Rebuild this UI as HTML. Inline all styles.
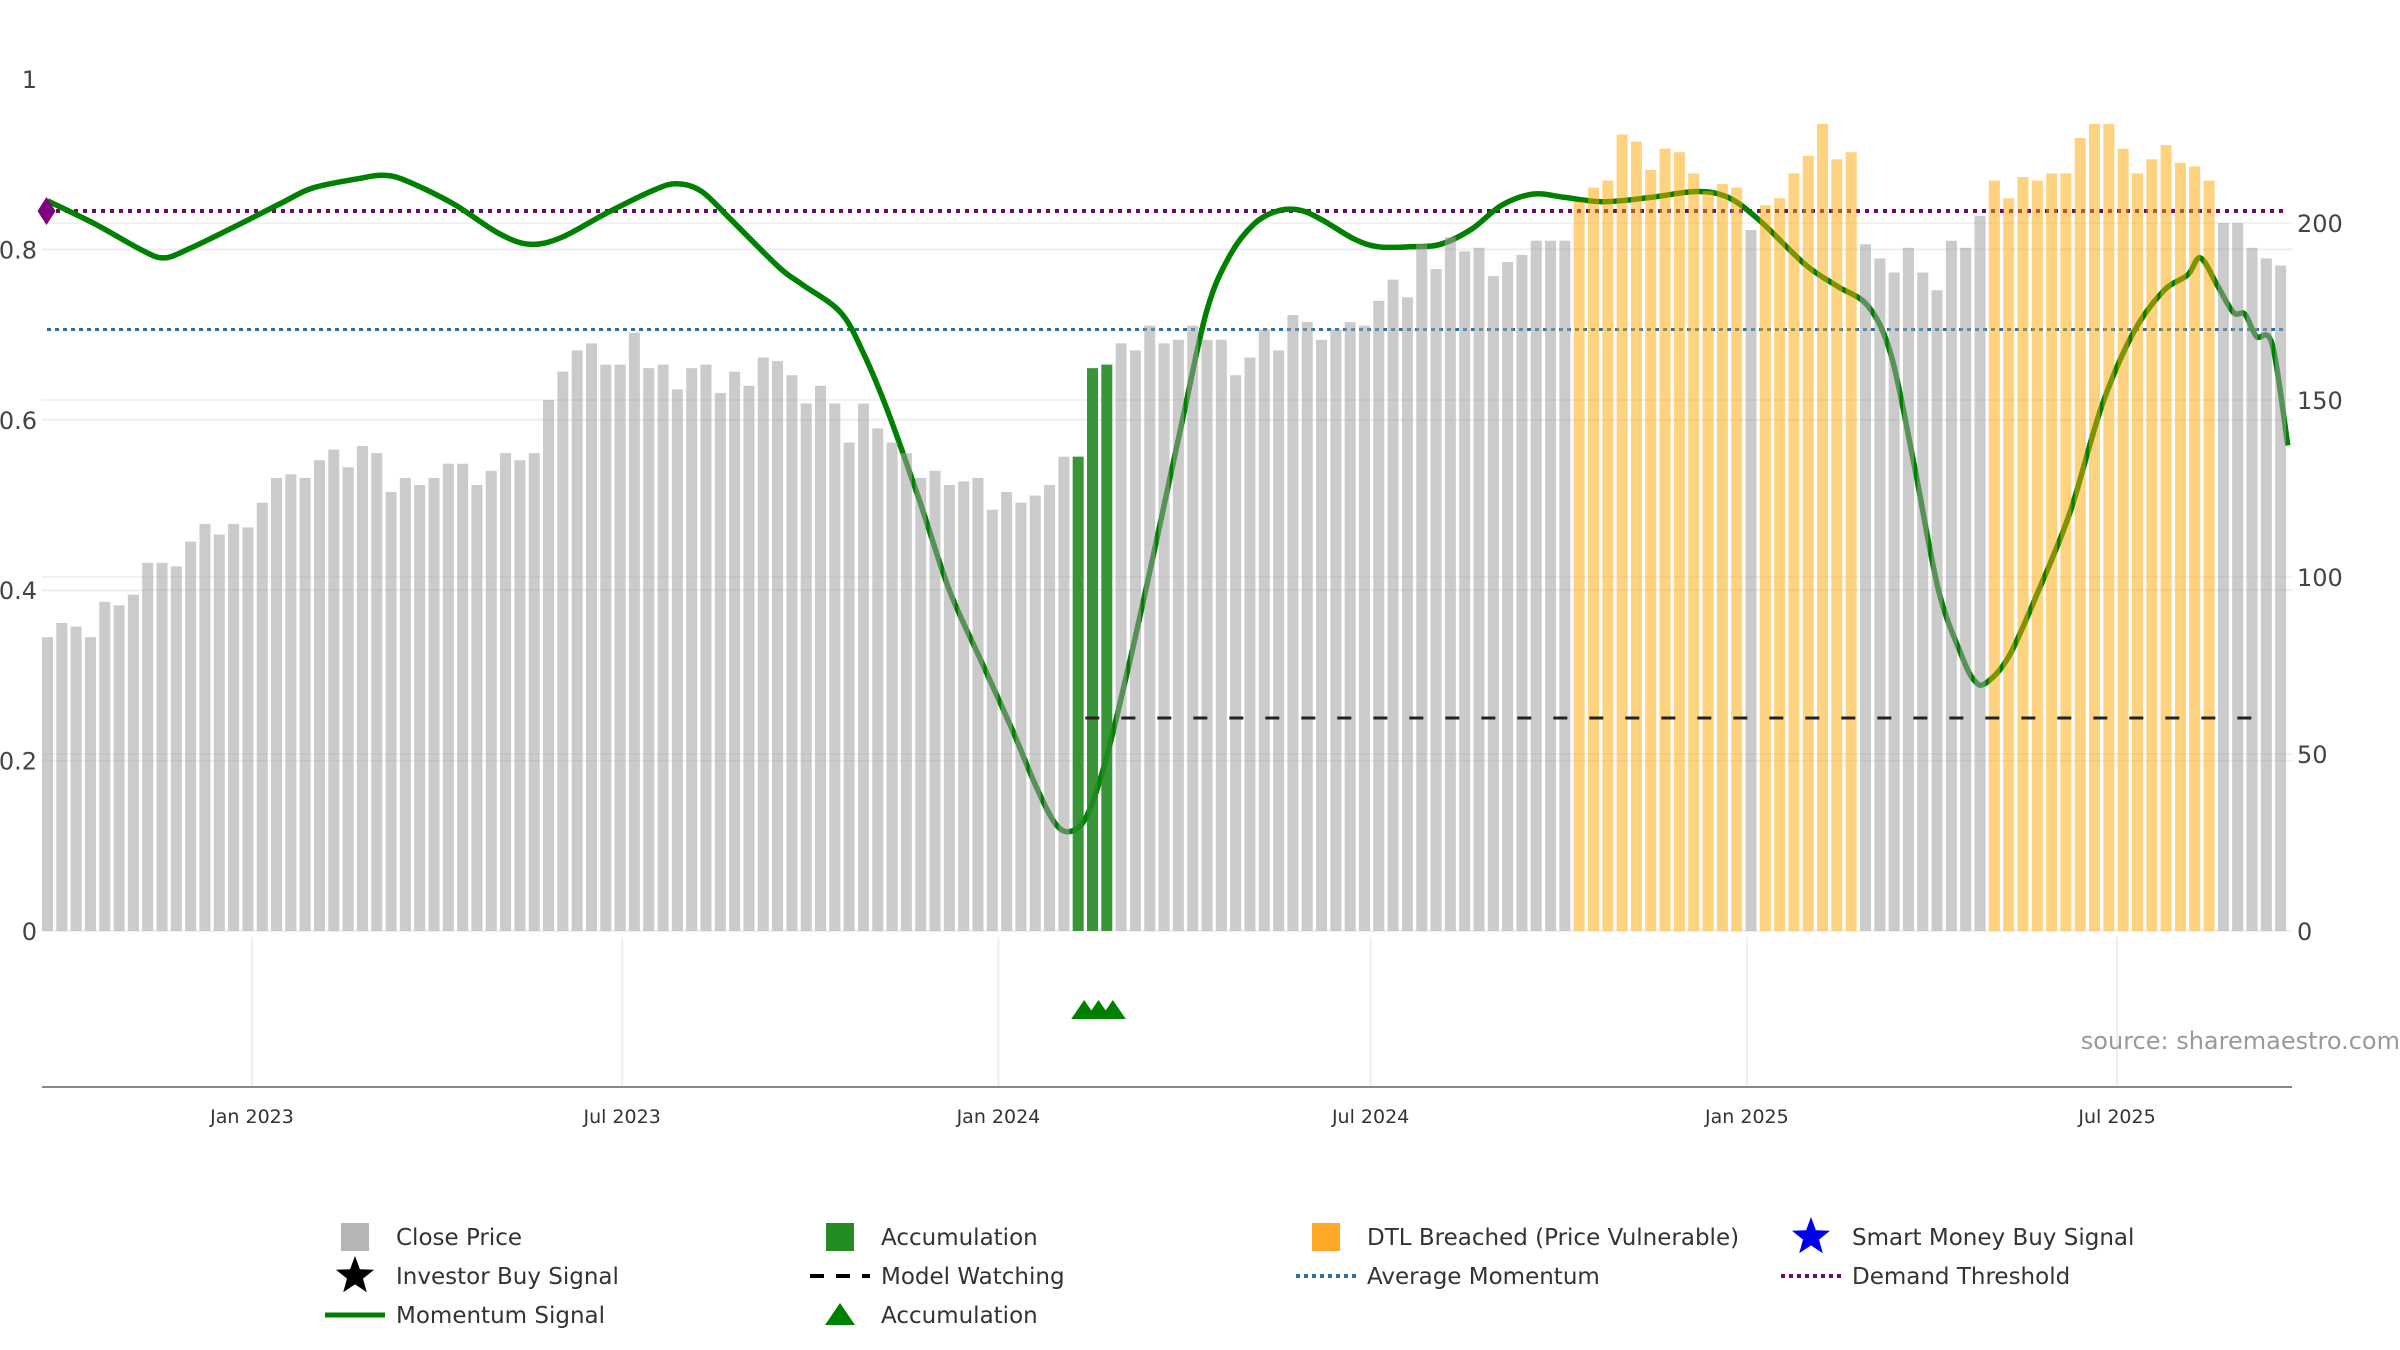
<!DOCTYPE html>
<html><head><meta charset="utf-8"><style>
html,body{margin:0;padding:0;background:#fff;}
svg{display:block;font-family:"DejaVu Sans","Liberation Sans",sans-serif;}
</style></head><body>
<svg id="chart" width="2400" height="1350" viewBox="0 0 2400 1350" xmlns="http://www.w3.org/2000/svg">
<g id="grid"></g>
<g id="lines"></g>
<g id="momentum"></g>
<g id="bars"></g>
<g id="markers"></g>
<g id="axes"></g>
<text x="2400" y="1049" text-anchor="end" font-size="24" fill="#999">source: sharemaestro.com</text>
<g id="legend"></g>
</svg>
<script>
const closePrice = [83,87,86,83,93,92,95,104,104,103,110,115,112,115,114,121,128,129,128,133,136,131,137,135,124,128,126,128,132,132,126,130,135,133,135,150,158,164,166,160,160,169,159,160,153,159,160,152,158,154,162,161,157,149,154,149,138,149,142,138,135,128,130,126,127,128,119,124,121,123,126,134,134,159,160,166,164,171,166,167,171,167,167,157,162,170,164,174,172,167,170,172,171,178,184,179,194,187,196,192,193,185,189,191,195,195,195,206,210,212,225,223,215,221,220,214,209,211,210,198,205,207,214,219,228,218,220,194,190,186,193,186,181,195,193,202,212,207,213,212,214,214,224,228,228,221,214,218,222,217,216,212,200,200,193,190,188];
const barState = [];
const accumIdx = [72,73,74];
const dtlRanges = [[107,118],[120,126],[136,151]];
const momentumWeek = [0,3.3,6.5,8.1,9.8,13,16.3,18.5,21.7,23.4,25,28.3,31.5,33.7,35.9,39.1,42.4,44,45.7,47.8,51.1,52.7,55.4,57,58.7,60.9,63,65.2,67.4,69,70.4,71.5,72.6,73.9,75.5,77.2,79.3,81,82.6,84.3,85.9,87.5,89.1,91.3,93,95.1,97.3,99.5,101.6,103.8,106,108.7,112,115.2,117.4,119.6,122.8,125,127.2,128.8,130.4,132.1,133.7,134.6,135.4,137,139.1,141.3,143.5,145.7,147.8,149.5,150.4,151.6,152.7,153.5,154.3,155.4,156.5];
const momentumVal = [0.857,0.83,0.80,0.79,0.80,0.826,0.854,0.872,0.883,0.887,0.881,0.854,0.819,0.806,0.814,0.843,0.870,0.877,0.868,0.834,0.779,0.759,0.726,0.678,0.61,0.506,0.40,0.318,0.236,0.172,0.126,0.117,0.135,0.199,0.309,0.437,0.601,0.729,0.793,0.830,0.845,0.846,0.834,0.812,0.803,0.803,0.806,0.824,0.852,0.865,0.861,0.856,0.861,0.868,0.861,0.834,0.782,0.757,0.733,0.675,0.547,0.40,0.324,0.294,0.291,0.322,0.40,0.492,0.616,0.702,0.751,0.77,0.79,0.757,0.726,0.724,0.698,0.689,0.57];
const demandThreshold = [0.845];
const averageMomentum = [0.706];
const modelWatching = [0.25];
const modelWatchStart = [72.5];
const leftTicks = [0,0.2,0.4,0.6,0.8,1];
const leftTickLabels = ["0","0.2","0.4","0.6","0.8","1"];
const rightTicks = [0,50,100,150,200];
const xTickDays = [0,181,365,547,731,912];
const xTickLabels = ["Jan 2023","Jul 2023","Jan 2024","Jul 2024","Jan 2025","Jul 2025"];

const NS="http://www.w3.org/2000/svg";
function mk(tag,attrs,parent){const e=document.createElementNS(NS,tag);for(const k in attrs)e.setAttribute(k,attrs[k]);parent.appendChild(e);return e;}
const xDay = d => 252 + d*2.045;
const xWeek = i => xDay(-100 + 7*i);
const yL = v => 931 - v*852;
const yR = v => 931 - v*3.54;
const G=id=>document.getElementById(id);

for(let i=0;i<closePrice.length;i++){barState.push('n');}
accumIdx.forEach(i=>barState[i]='a');
dtlRanges.forEach(r=>{for(let i=r[0];i<=r[1];i++)barState[i]='d';});

const grid=G('grid');
leftTicks.forEach(t=>{if(t===1)return;const l=mk('line',{x1:42,x2:2292,y1:yL(t),y2:yL(t),stroke:'#eceef2','stroke-width':2},grid);

});
rightTicks.forEach(t=>{const l=mk('line',{x1:42,x2:2292,y1:yR(t),y2:yR(t),stroke:'#f2f2f2','stroke-width':2},grid);

});
xTickDays.forEach(d=>{const l=mk('line',{x1:xDay(d),x2:xDay(d),y1:937,y2:1086,stroke:'#eceef2','stroke-width':2},grid);

});

const lines=G('lines');
let l1=mk('line',{x1:47,x2:2285,y1:yL(demandThreshold[0]),y2:yL(demandThreshold[0]),stroke:'#6d0a6d','stroke-width':4,'stroke-dasharray':'4 5'},lines);


let l2=mk('line',{x1:47,x2:2285,y1:yL(averageMomentum[0]),y2:yL(averageMomentum[0]),stroke:'#2a6f9e','stroke-width':3,'stroke-dasharray':'4 4'},lines);



// smooth momentum path (Catmull-Rom)
const P=momentumWeek.map((w,i)=>[xWeek(w),yL(momentumVal[i])]);
let d='M'+P[0][0].toFixed(1)+','+P[0][1].toFixed(1);
for(let i=0;i<P.length-1;i++){
  const p0=P[Math.max(0,i-1)],p1=P[i],p2=P[i+1],p3=P[Math.min(P.length-1,i+2)];
  const c1=[p1[0]+(p2[0]-p0[0])/6,p1[1]+(p2[1]-p0[1])/6];
  const c2=[p2[0]-(p3[0]-p1[0])/6,p2[1]-(p3[1]-p1[1])/6];
  d+=' C'+c1[0].toFixed(1)+','+c1[1].toFixed(1)+' '+c2[0].toFixed(1)+','+c2[1].toFixed(1)+' '+p2[0].toFixed(1)+','+p2[1].toFixed(1);
}
let ml=mk('path',{d:d,fill:'none',stroke:'#008000','stroke-width':5.5,'stroke-linejoin':'round'},G('momentum'));



const bars=G('bars');
closePrice.forEach((v,i)=>{
  const st=barState[i];
  const fill = st==='a'?'rgba(34,139,34,0.9)':st==='d'?'rgba(255,165,0,0.5)':'rgba(160,160,160,0.55)';
  const b=mk('rect',{x:xWeek(i)-5.5,y:yR(v),width:11,height:931-yR(v),fill:fill},bars);
  
  
});

let mw=mk('line',{x1:xWeek(modelWatchStart[0]),x2:2270,y1:yL(modelWatching[0]),y2:yL(modelWatching[0]),stroke:'#222','stroke-width':3,'stroke-dasharray':'14 22'},G('markers'));


const dx=xWeek(0)-1,dy=yL(demandThreshold[0]);
let dm=mk('polygon',{points:`${dx-9},${dy} ${dx},${dy-14} ${dx+9},${dy} ${dx},${dy+14}`,fill:'#800080'},G('markers'));


accumIdx.forEach(i=>{const x=xWeek(i)+6;
const t=mk('polygon',{points:`${x-13},1019 ${x+13},1019 ${x},1000`,fill:'#008000'},G('markers'));

});

const axes=G('axes');
let ax=mk('line',{x1:42,x2:2292,y1:1087,y2:1087,stroke:'#888','stroke-width':2},axes);


leftTicks.forEach((t,i)=>{const e=mk('text',{x:37,y:yL(t)+9,'text-anchor':'end','font-size':24,fill:'#444'},axes);e.textContent=leftTickLabels[i];

});
rightTicks.forEach(t=>{const e=mk('text',{x:2297,y:yR(t)+9,'font-size':24,fill:'#444'},axes);e.textContent=String(t);

});
xTickDays.forEach((d,i)=>{const e=mk('text',{x:xDay(d),y:1123,'text-anchor':'middle','font-size':19,fill:'#333'},axes);e.textContent=xTickLabels[i];

});

const lg=G('legend');
const items=[
 ['sq','#b5b5b5','Close Price',0,0],['sq','#228B22','Accumulation',1,0],['sq','#FFA726','DTL Breached (Price Vulnerable)',2,0],['star','#0000ee','Smart Money Buy Signal',3,0],
 ['star','#000','Investor Buy Signal',0,1],['dash','#000','Model Watching',1,1],['dot','#2a6f9e','Average Momentum',2,1],['dot','#6d0a6d','Demand Threshold',3,1],
 ['line','#008000','Momentum Signal',0,2],['tri','#008000','Accumulation',1,2]];
const colX=[355,840,1326,1811],rowY=[1237,1276,1315];
function star(cx,cy,r){let p=[];for(let k=0;k<10;k++){const a=-Math.PI/2+k*Math.PI/5,rr=k%2?r*0.42:r;p.push((cx+rr*Math.cos(a)).toFixed(1)+','+(cy+rr*Math.sin(a)).toFixed(1));}return p.join(' ');}
items.forEach(it=>{
 const g=mk('g',{},lg);
 
 
 const cx=colX[it[3]],cy=rowY[it[4]];
 if(it[0]==='sq')mk('rect',{x:cx-14,y:cy-14,width:28,height:28,fill:it[1]},g);
 if(it[0]==='star')mk('polygon',{points:star(cx,cy,20),fill:it[1]},g);
 if(it[0]==='dash')mk('line',{x1:cx-30,x2:cx+30,y1:cy,y2:cy,stroke:it[1],'stroke-width':4,'stroke-dasharray':'14 12'},g);
 if(it[0]==='dot')mk('line',{x1:cx-30,x2:cx+30,y1:cy,y2:cy,stroke:it[1],'stroke-width':4,'stroke-dasharray':'4 4'},g);
 if(it[0]==='line')mk('line',{x1:cx-30,x2:cx+30,y1:cy,y2:cy,stroke:it[1],'stroke-width':5},g);
 if(it[0]==='tri')mk('polygon',{points:`${cx-15},${cy+10} ${cx+15},${cy+10} ${cx},${cy-12}`,fill:it[1]},g);
 const t=mk('text',{x:cx+41,y:cy+8,'font-size':23,fill:'#333'},g);t.textContent=it[2];
});
</script>
</body></html>
